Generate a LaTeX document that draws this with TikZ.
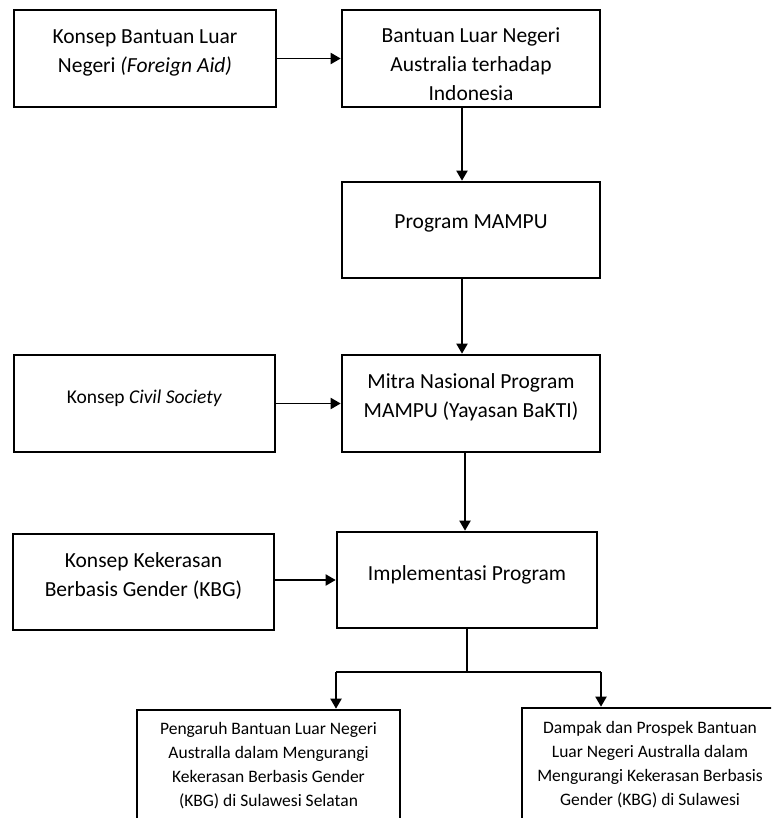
\documentclass[tikz,border=0pt]{standalone}
\usepackage{fontspec}
\setmainfont{Carlito}
\usepackage{tikz}
\usetikzlibrary{arrows.meta,positioning,calc}

\begin{document}
\begin{tikzpicture}[x=1pt,y=-1pt,
  box/.style={draw=black,line width=2.6pt,minimum width=260pt,minimum height=97pt,align=center,font=\fontsize{21.5}{29}\selectfont},
  smallbox/.style={box,font=\fontsize{17.5}{24}\selectfont},
  arr/.style={-{Triangle[length=10pt,width=11pt]},line width=1.9pt,black}
]
\useasboundingbox (0,0) rectangle (771,818);
\clip (0,0) rectangle (771,818);

\node[box,minimum width=262pt] (aid) at (145,58.5) {Konsep Bantuan Luar\\Negeri \textit{(Foreign Aid)}\\[-14pt]};
\node[box,minimum width=258pt] (aus) at (471,58.5) {Bantuan Luar Negeri\\Australia terhadap\\Indonesia\\[-40pt]};
\node[box,minimum width=258pt,minimum height=96pt] (mampu) at (471,230) {Program MAMPU\\[-13pt]};
\node[box,minimum width=258pt] (mitra) at (471,403.5) {Mitra Nasional Program\\MAMPU (Yayasan BaKTI)\\[-13pt]};
\node[box,minimum width=261pt,font=\fontsize{19.5}{24}\selectfont] (civil) at (144.5,403.5) {Konsep \textit{Civil Society}\\[-11pt]};
\node[box,minimum width=261pt,minimum height=96pt] (kbg) at (143.5,582) {Konsep Kekerasan\\Berbasis Gender (KBG)\\[-15pt]};
\node[box,minimum height=96pt] (impl) at (467,580) {Implementasi Program\\[-15pt]};
\node[smallbox,minimum width=263pt,minimum height=112pt] (pengaruh) at (268.5,766) {Pengaruh Bantuan Luar Negeri\\Australla dalam Mengurangi\\Kekerasan Berbasis Gender\\(KBG) di Sulawesi Selatan};
\node[smallbox,minimum width=256pt,minimum height=114pt] (dampak) at (650,765) {Dampak dan Prospek Bantuan\\Luar Negeri Australla dalam\\Mengurangi Kekerasan Berbasis\\Gender (KBG) di Sulawesi};

\coordinate (forkl) at (336,672);
\coordinate (forkr) at (601,672);

\draw[arr] (aid.east) -- (aus.west);
\draw[arr] ([xshift=-9pt]aus.south) -- ([xshift=-9pt]mampu.north);
\draw[arr] ([xshift=-9pt]mampu.south) -- ([xshift=-9pt]mitra.north);
\draw[arr] (civil.east) -- (mitra.west);
\draw[arr] ([xshift=-6pt]mitra.south) -- ([xshift=-2pt]impl.north);
\draw[arr] (kbg.east |- impl.west) -- (impl.west);
\draw[line width=1.5pt] (impl.south) -- (impl.south |- forkl);
\draw[line width=1.5pt] (forkl) -- (forkr);
\draw[arr] (forkl) -- (forkl |- pengaruh.north);
\draw[arr] (forkr) -- (forkr |- dampak.north);
\end{tikzpicture}
\end{document}
